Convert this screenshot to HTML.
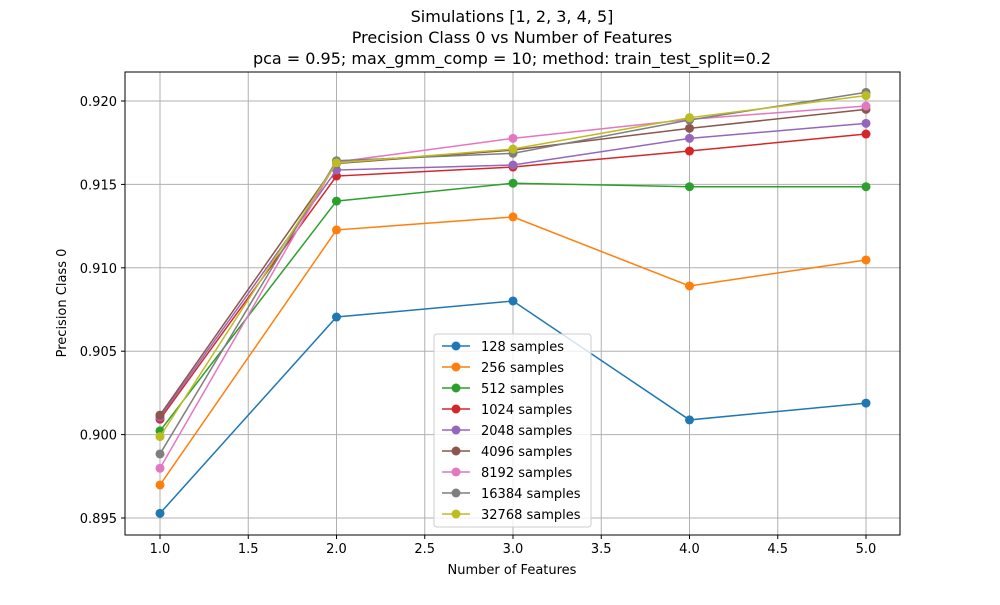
<!DOCTYPE html>
<html><head><meta charset="utf-8"><style>
body{margin:0;background:#fff;font-family:"Liberation Sans","DejaVu Sans",sans-serif}
svg text{font-family:"DejaVu Sans","Liberation Sans",sans-serif}
</style></head><body>
<svg id="chart" width="1000" height="600" xmlns="http://www.w3.org/2000/svg">
<g font-size="16" text-anchor="middle" fill="#000">
<text x="512" y="22">Simulations [1, 2, 3, 4, 5]</text>
<text x="512" y="43">Precision Class 0 vs Number of Features</text>
<text x="512" y="64">pca = 0.95; max_gmm_comp = 10; method: train_test_split=0.2</text>
</g>
<g id="grid"></g><g id="series"></g>
<rect x="125" y="72" width="775" height="463" fill="none" stroke="#000" stroke-width="1"/>
<g id="ticks" font-size="13"></g>
<text x="512" y="574" font-size="13" text-anchor="middle">Number of Features</text>
<text transform="translate(66,303) rotate(-90)" font-size="13" text-anchor="middle">Precision Class 0</text>
<g id="legend"></g>
</svg>
<script>
const xValues=[1,2,3,4,5];
const seriesNames=["128 samples","256 samples","512 samples","1024 samples","2048 samples","4096 samples","8192 samples","16384 samples","32768 samples"];
const colors=["#1f77b4","#ff7f0e","#2ca02c","#d62728","#9467bd","#8c564b","#e377c2","#7f7f7f","#bcbd22"];
const s128=[0.89528,0.90705,0.90801,0.90088,0.90189];
const s256=[0.89698,0.91227,0.91305,0.90891,0.91047];
const s512=[0.90022,0.9140,0.91507,0.91486,0.91486];
const s1024=[0.90092,0.91550,0.91604,0.91700,0.91802];
const s2048=[0.90105,0.91586,0.91616,0.91776,0.91866];
const s4096=[0.90117,0.91625,0.91706,0.91836,0.91950];
const s8192=[0.89798,0.91634,0.91776,0.91890,0.91970];
const s16384=[0.89884,0.91642,0.91686,0.91886,0.92052];
const s32768=[0.89988,0.91629,0.91712,0.91900,0.92032];
const allSeries=[s128,s256,s512,s1024,s2048,s4096,s8192,s16384,s32768];
const xTicks=[1.0,1.5,2.0,2.5,3.0,3.5,4.0,4.5,5.0];
const yTicks=[0.895,0.900,0.905,0.910,0.915,0.920];
const NS="http://www.w3.org/2000/svg";
const L=125,R=900,T=72,B=535;
function xs(v){return 160+(v-1)*(866-160)/4;}
function ys(v){return 101+(0.920-v)/0.005*83.4;}
function mk(tag,attrs,parent){const e=document.createElementNS(NS,tag);for(const k in attrs)e.setAttribute(k,attrs[k]);parent.appendChild(e);return e;}
const grid=document.getElementById('grid'),ticks=document.getElementById('ticks');
xTicks.forEach(t=>{const x=xs(t);
const g=mk('line',{x1:x,x2:x,y1:T,y2:B,stroke:'#b0b0b0','stroke-width':1},grid);


mk('line',{x1:x,x2:x,y1:B,y2:B+4,stroke:'#000'},ticks);
const tx=mk('text',{x:x,y:B+18,'text-anchor':'middle'},ticks);tx.textContent=t.toFixed(1);

});
yTicks.forEach(t=>{const y=ys(t);
const g=mk('line',{x1:L,x2:R,y1:y,y2:y,stroke:'#b0b0b0','stroke-width':1},grid);


mk('line',{x1:L-4,x2:L,y1:y,y2:y,stroke:'#000'},ticks);
const tx=mk('text',{x:L-8,y:y+5,'text-anchor':'end'},ticks);tx.textContent=t.toFixed(3);

});
const sg=document.getElementById('series');
allSeries.forEach((s,i)=>{const g=mk('g',{},sg);


mk('polyline',{points:s.map((v,j)=>xs(xValues[j])+','+ys(v)).join(' '),fill:'none',stroke:colors[i],'stroke-width':1.5},g);
s.forEach((v,j)=>{const c=mk('circle',{cx:xs(xValues[j]),cy:ys(v),r:4.5,fill:colors[i]},g);

});});
const lg=document.getElementById('legend');


mk('rect',{x:434,y:334,width:157,height:193,rx:3,fill:'#fff','fill-opacity':0.8,stroke:'#ccc'},lg);
seriesNames.forEach((n,i)=>{const y=346+i*21;const g=mk('g',{},lg);


mk('line',{x1:442,x2:470,y1:y,y2:y,stroke:colors[i],'stroke-width':1.5},g);
mk('circle',{cx:456,cy:y,r:4.5,fill:colors[i]},g);
const t=mk('text',{x:481,y:y+5,'font-size':13},g);t.textContent=n;});
</script>
</body></html>
